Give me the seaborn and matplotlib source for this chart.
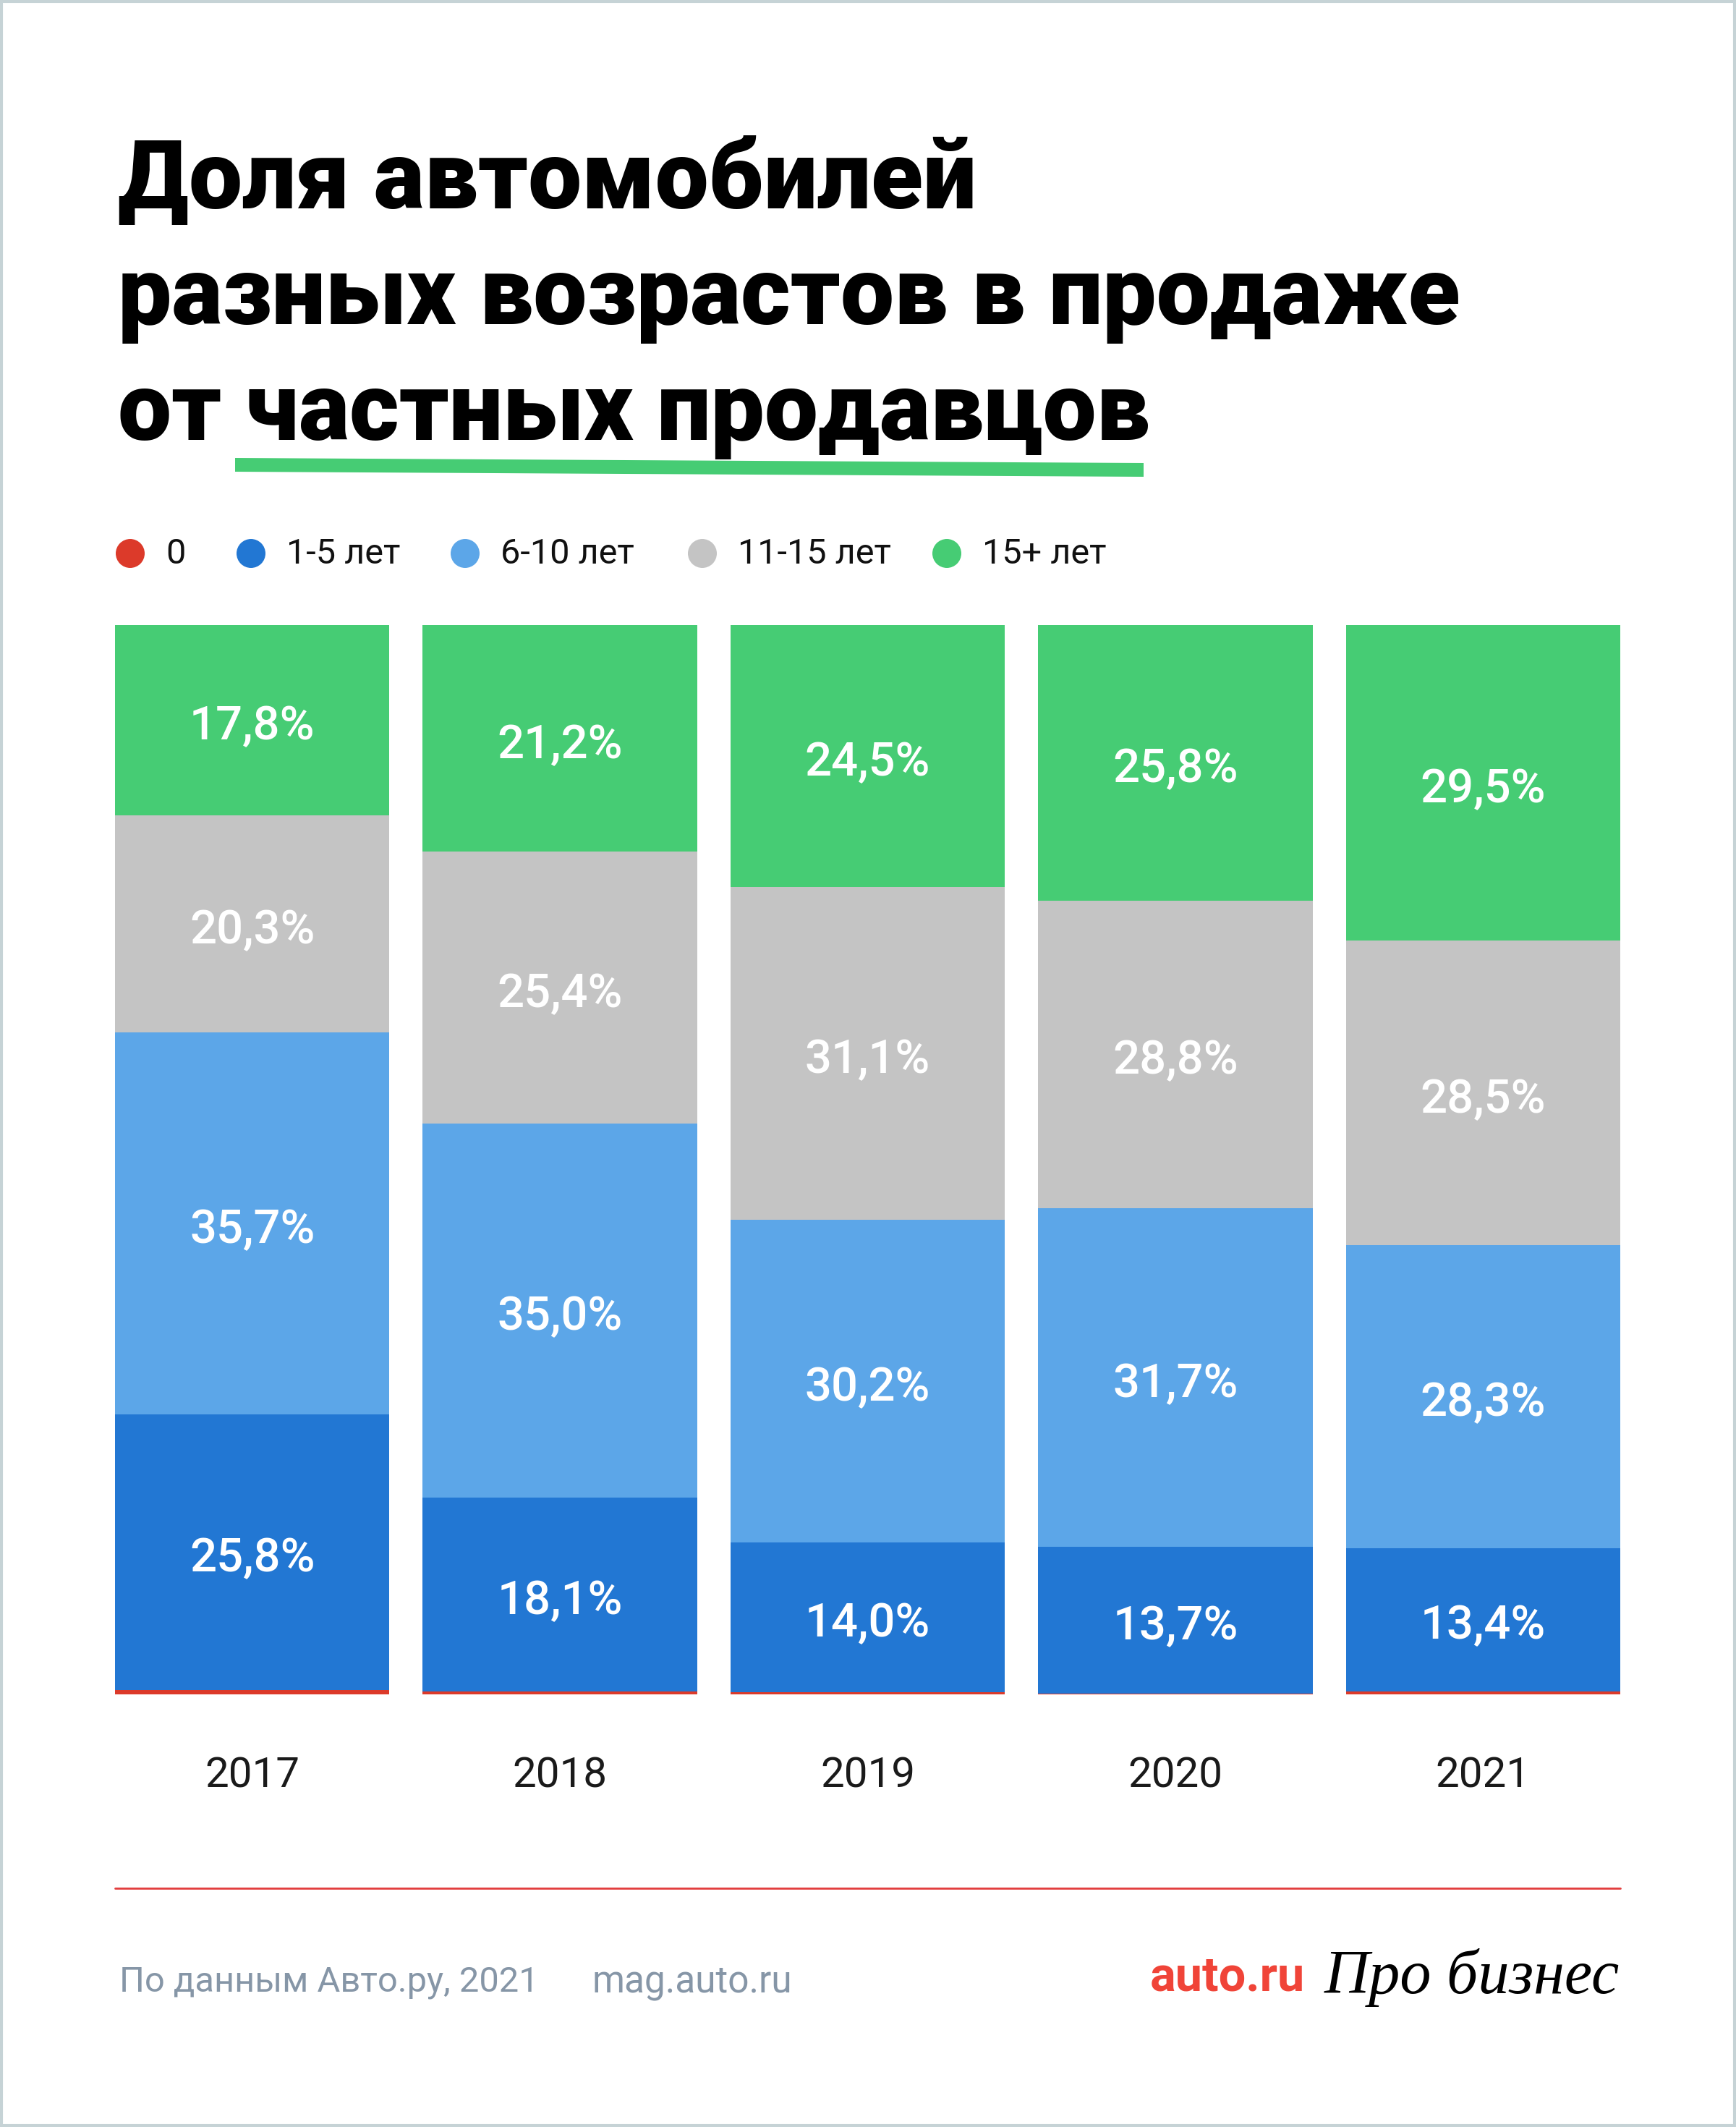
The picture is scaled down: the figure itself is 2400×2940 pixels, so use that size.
import numpy as np
import matplotlib
matplotlib.use("Agg")
import matplotlib.pyplot as plt
import matplotlib.transforms as mtransforms
from matplotlib.patches import Circle, Polygon, Rectangle
import seaborn as sns

# ----------------------------------------------------------
# Data
# ----------------------------------------------------------
years = ["2017", "2018", "2019", "2020", "2021"]
age_groups = ["0", "1-5 лет", "6-10 лет", "11-15 лет", "15+ лет"]

share_new = [0.4, 0.3, 0.2, 0.1, 0.3]
share_1_5 = [25.8, 18.1, 14.0, 13.7, 13.4]
share_6_10 = [35.7, 35.0, 30.2, 31.7, 28.3]
share_11_15 = [20.3, 25.4, 31.1, 28.8, 28.5]
share_15_plus = [17.8, 21.2, 24.5, 25.8, 29.5]

colors = ["#DC3A2A", "#2277D3", "#5CA6E8", "#C4C4C4", "#46CC74"]

title_lines = ["Доля автомобилей", "разных возрастов в продаже", "от частных продавцов"]
source_text = "По данным Авто.ру, 2021"
site_text = "mag.auto.ru"

# ----------------------------------------------------------
# Figure
# ----------------------------------------------------------
sns.set_style("white")
plt.rcParams["font.family"] = ["Roboto", "DejaVu Sans"]

W, H = 2400, 2940
fig = plt.figure(figsize=(12, 14.7), dpi=200)
fig.patch.set_facecolor("white")

# bars area, placed in pixel units
left, right, top, bottom = 159, 2240, 864, 2342
ax = fig.add_axes([left / W, 1 - bottom / H, (right - left) / W, (bottom - top) / H])

series = np.array([share_new, share_1_5, share_6_10, share_11_15, share_15_plus])
series = series / series.sum(axis=0) * 100  # every bar fills the full height
cum = np.cumsum(series, axis=0)

bar_w = 0.892
for i in reversed(range(len(age_groups))):
    sns.barplot(x=years, y=cum[i], color=colors[i], width=bar_w,
                saturation=1, linewidth=0, ax=ax)

ax.set_xlim(-bar_w / 2, len(years) - 1 + bar_w / 2)
ax.set_ylim(0, 100)
ax.axis("off")

# value labels inside the segments (nudged a little down, like the original)
nudge = ax.transData + mtransforms.ScaledTranslation(0, -9 / 200, fig.dpi_scale_trans)
raw = [share_1_5, share_6_10, share_11_15, share_15_plus]
for k, vals in enumerate(raw, start=1):
    for j, v in enumerate(vals):
        y0 = cum[k - 1][j]
        y1 = cum[k][j]
        ax.text(j, (y0 + y1) / 2, f"{v:.1f}".replace(".", ",") + "%",
                transform=nudge, ha="center", va="center", color="white",
                fontsize=23.5, fontweight="medium")

# year labels under the bars
trans = mtransforms.blended_transform_factory(ax.transData, ax.transAxes)
for j, yr in enumerate(years):
    ax.text(j, -(2455 - bottom) / (bottom - top), yr, transform=trans,
            ha="center", va="center", fontsize=21, color="#1A1A1A")

# ----------------------------------------------------------
# Decorations in pixel coordinates
# ----------------------------------------------------------
ov = fig.add_axes([0, 0, 1, 1], zorder=-1)
ov.set_xlim(0, W)
ov.set_ylim(H, 0)
ov.axis("off")

# frame
ov.add_patch(Rectangle((1, 1), W - 2, H - 2, fill=False, edgecolor="#C6D3D6", linewidth=2.2))

# title
for n, line in enumerate(title_lines):
    ov.text(163, 288 + 160 * n, line, ha="left", va="baseline", fontsize=47.5,
            fontweight="black", color="black")

# green underline
ov.add_patch(Polygon([(325, 633), (1581, 640), (1581, 659), (325, 652)],
                     closed=True, facecolor="#46CC74", edgecolor="none"))

# legend
legend_dot_x = [180, 347, 643, 971, 1309]
for cx, label, c in zip(legend_dot_x, age_groups, colors):
    ov.add_patch(Circle((cx, 765), 20, facecolor=c, edgecolor="none"))
    ov.text(cx + 49, 766, label, ha="left", va="center", fontsize=17.5, color="#111111")

# footer
ov.plot([159, 2240], [2610, 2610], color="#E23C3C", linewidth=1.0)
ov.text(165, 2740, source_text, ha="left", va="center", fontsize=17.6, color="#8696A7")
ov.text(819, 2740, site_text, ha="left", va="center", fontsize=18.5, color="#8696A7")
ov.text(1590, 2734, "auto.ru", ha="left", va="center", fontsize=24,
        fontweight="bold", color="#F04438")
ov.text(2239, 2734, "Про бизнес", ha="right", va="center", fontsize=31,
        family=["Liberation Serif", "DejaVu Serif"], style="italic", color="black")

fig.savefig("out.png", dpi=200, facecolor="white")
